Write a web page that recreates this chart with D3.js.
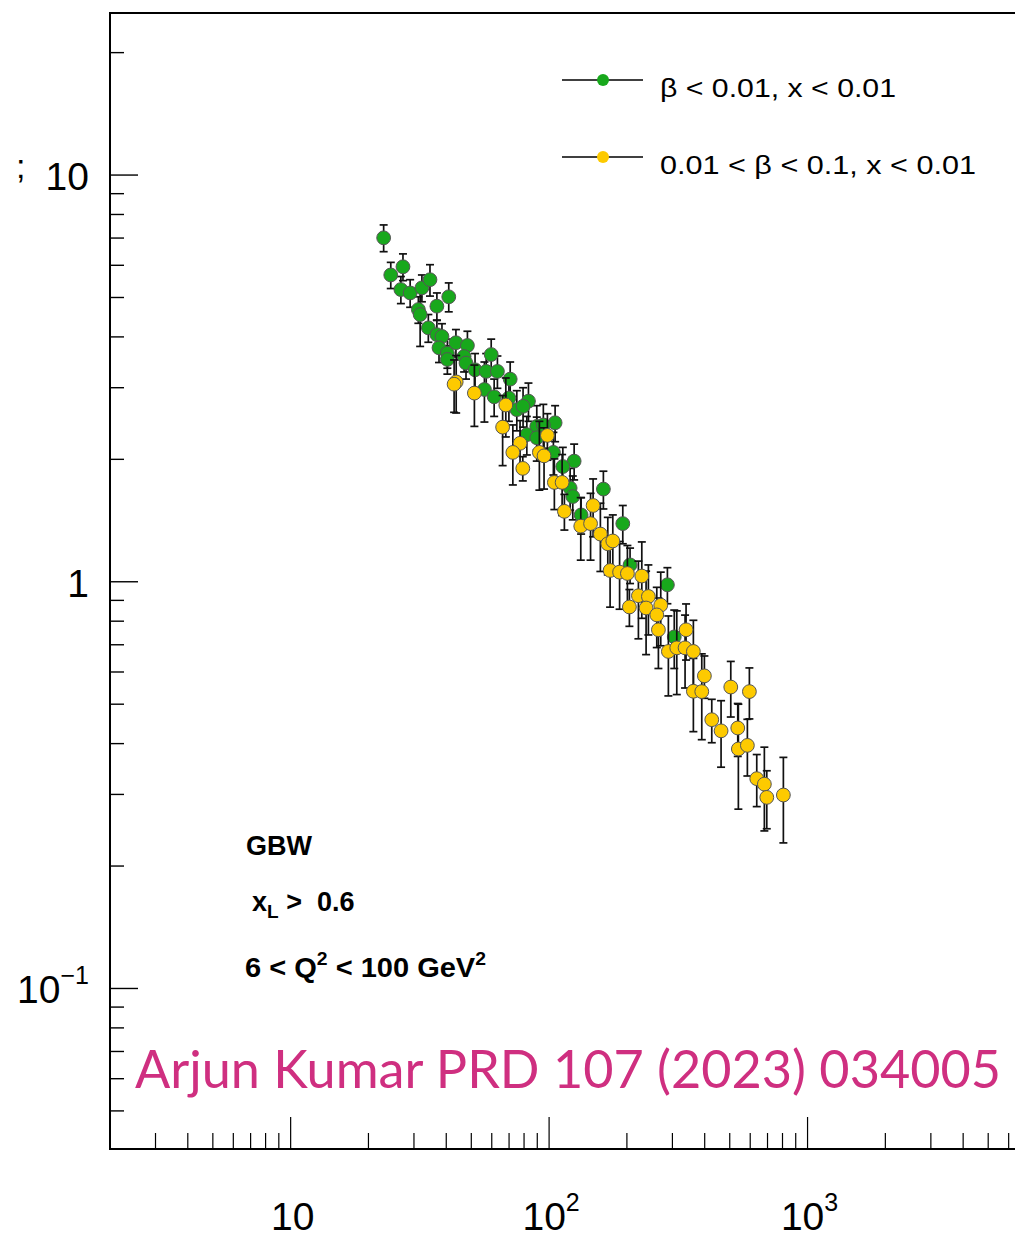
<!DOCTYPE html>
<html>
<head>
<meta charset="utf-8">
<script src="https://cdn.jsdelivr.net/npm/d3@7"></script>
<style>
  html, body { margin: 0; padding: 0; background: #fff; overflow: hidden; }
  svg { display: block; }
  text { white-space: pre; }
</style>
</head>
<body>
<script>
// ---------- data ----------
const greenX = [22.9,24.4,27.2,26.7,29.0,32.2,34.6,40.9,36.8,31.2,31.7,34.1,36.8,38.5,37.5,40.4,40.4,43.6,48.3,46.9,47.7,51.7,59.7,57.1,63.1,70.7,56.2,61.3,69.9,75.0,83.2,89.6,105.5,79.3,95.0,82.0,89.6,103.9,125,113,120.6,123.5,162.2,133,192.8,205.7,286.9,305];
const greenY = [7.01,5.68,5.95,5.23,5.13,5.28,5.53,5.02,4.76,4.67,4.54,4.21,4.05,4.01,3.76,3.65,3.52,3.87,3.81,3.58,3.45,3.32,3.62,3.29,3.29,3.15,2.97,2.85,2.83,2.65,2.78,2.41,2.46,2.70,2.43,2.30,2.26,2.08,1.98,1.92,1.70,1.62,1.69,1.46,1.39,1.10,0.983,0.732];
const greenErr = [0.53,0.42,0.45,0.4,0.4,0.4,0.49,0.41,0.37,0.35,0.75,0.33,0.35,0.3,0.3,0.3,0.28,0.3,0.32,0.3,0.3,0.32,0.33,0.35,0.3,0.32,0.5,0.3,0.35,0.3,0.3,0.3,0.25,0.3,0.3,0.25,0.28,0.25,0.2,0.22,0.2,0.2,0.18,0.15,0.15,0.11,0.1,0.12];

const yellowX = [43.7,42.9,51.4,68.0,66.1,77.2,72.4,79.1,98.5,91.7,95.6,104.8,112.3,114.6,132.6,144.7,148.0,157.9,168.7,176.4,172.2,187.4,200.9,228.4,221.6,242.2,204.5,237.3,270.4,261.0,264.8,338.8,289.4,311.9,335.8,361.6,398.9,361.6,389.7,504.6,595.6,426.0,462.8,537.0,539.9,585.0,636.0,680.6,695.4,806.2];
const yellowY = [3.10,3.06,2.91,2.72,2.40,2.19,2.08,1.90,2.29,2.08,2.04,1.755,1.755,1.49,1.37,1.39,1.54,1.31,1.24,1.26,1.066,1.056,1.048,1.033,0.924,0.920,0.867,0.862,0.876,0.829,0.762,0.762,0.674,0.688,0.688,0.674,0.587,0.538,0.537,0.551,0.537,0.458,0.430,0.437,0.388,0.396,0.328,0.318,0.295,0.299];
const yellowErr = [0.5,0.45,0.5,0.45,0.47,0.3,0.35,0.13,0.3,0.4,0.35,0.25,0.3,0.15,0.24,0.26,0.25,0.25,0.2,0.2,0.2,0.2,0.18,0.22,0.2,0.18,0.09,0.2,0.18,0.14,0.15,0.12,0.15,0.16,0.14,0.13,0.07,0.11,0.128,0.086,0.077,0.056,0.08,0.065,0.112,0.063,0.048,0.074,0.048,0.071];

const xDomain = [2, 10000];
const yDomain = [0.0403, 25.03];
const xMajorTicks = [10, 100, 1000];
const xMinorTicks = [3,4,5,6,7,8,9,20,30,40,50,60,70,80,90,200,300,400,500,600,700,800,900,2000,3000,4000,5000,6000,7000,8000,9000];
const yMajorTicks = [0.1, 1, 10];
const yMinorTicks = [0.05,0.06,0.07,0.08,0.09,0.2,0.3,0.4,0.5,0.6,0.7,0.8,0.9,2,3,4,5,6,7,8,9,20];

const legendLabels = ["β < 0.01, x < 0.01", "0.01 < β < 0.1, x < 0.01"];
const seriesColors = ["#18a81c", "#fdca00"];
const creditText = "Arjun Kumar PRD 107 (2023) 034005";

// ---------- layout ----------
const W = 1015, H = 1240;
const L = 110, R = 1066, T = 13, B = 1149;

const svg = d3.select("body").append("svg").attr("width", W).attr("height", H);
const x = d3.scaleLog().domain(xDomain).range([L, R]);
const y = d3.scaleLog().domain(yDomain).range([B, T]);

// frame
svg.append("rect").attr("x", L).attr("y", T).attr("width", R - L).attr("height", B - T)
  .attr("fill", "none").attr("stroke", "#000").attr("stroke-width", 2);

// x ticks (inward)
const gx = svg.append("g").attr("stroke", "#000").attr("stroke-width", 1.2);
gx.selectAll("line.maj").data(xMajorTicks).enter().append("line")
  .attr("x1", d => x(d)).attr("x2", d => x(d)).attr("y1", B).attr("y2", B - 32);
gx.selectAll("line.min").data(xMinorTicks).enter().append("line")
  .attr("x1", d => x(d)).attr("x2", d => x(d)).attr("y1", B).attr("y2", B - 16);

// y ticks (inward)
const gy = svg.append("g").attr("stroke", "#000").attr("stroke-width", 1.4);
gy.selectAll("line.maj").data(yMajorTicks).enter().append("line")
  .attr("y1", d => y(d)).attr("y2", d => y(d)).attr("x1", L).attr("x2", L + 28);
gy.selectAll("line.min").data(yMinorTicks).enter().append("line")
  .attr("y1", d => y(d)).attr("y2", d => y(d)).attr("x1", L).attr("x2", L + 14);

const FONT = "'Liberation Sans', Arial, Helvetica, sans-serif";

function powLabel(sel, d) {
  const e = Math.round(Math.log10(d));
  if (e === 1) { sel.text("10"); return; }
  if (e === 0) { sel.text("1"); return; }
  sel.append("tspan").text("10");
  sel.append("tspan").attr("font-size", 25).attr("dy", -19).text(e < 0 ? "\u2212" + (-e) : String(e));
}
svg.append("g").selectAll("text").data(xMajorTicks).enter().append("text")
  .attr("x", d => x(d) + 2).attr("y", 1230)
  .attr("text-anchor", "middle").attr("font-family", FONT).attr("font-size", 39)
  .each(function(d) { powLabel(d3.select(this), d); });

svg.append("g").selectAll("text").data(yMajorTicks).enter().append("text")
  .attr("x", 89).attr("y", d => y(d) + 15)
  .attr("text-anchor", "end").attr("font-family", FONT).attr("font-size", 39)
  .each(function(d) { powLabel(d3.select(this), d); });

// cut-off y title glyph
svg.append("text").attr("x", 16).attr("y", 178).attr("font-family", FONT)
  .attr("font-size", 34).text(";");

// ---------- series ----------
const series = [
  { xs: greenX, ys: greenY, es: greenErr, color: seriesColors[0] },
  { xs: yellowX, ys: yellowY, es: yellowErr, color: seriesColors[1] }
];
series.forEach(s => {
  const pts = s.xs.map((v, i) => ({ x: v, y: s.ys[i], e: s.es[i] }));
  const g = svg.append("g");
  const eb = g.append("g").attr("stroke", "#111").attr("stroke-width", 1.7);
  eb.selectAll("line.v").data(pts).enter().append("line")
    .attr("x1", d => x(d.x)).attr("x2", d => x(d.x))
    .attr("y1", d => y(d.y + d.e)).attr("y2", d => y(d.y - d.e));
  eb.selectAll("line.t").data(pts).enter().append("line")
    .attr("x1", d => x(d.x) - 4).attr("x2", d => x(d.x) + 4)
    .attr("y1", d => y(d.y + d.e)).attr("y2", d => y(d.y + d.e));
  eb.selectAll("line.b").data(pts).enter().append("line")
    .attr("x1", d => x(d.x) - 4).attr("x2", d => x(d.x) + 4)
    .attr("y1", d => y(d.y - d.e)).attr("y2", d => y(d.y - d.e));
  g.append("g").selectAll("circle").data(pts).enter().append("circle")
    .attr("cx", d => x(d.x)).attr("cy", d => y(d.y)).attr("r", 6.9)
    .attr("fill", s.color).attr("stroke", "#555").attr("stroke-width", 1);
});

// ---------- legend ----------
const legY = [80, 157];
legendLabels.forEach((lab, i) => {
  svg.append("line").attr("x1", 562).attr("x2", 643).attr("y1", legY[i]).attr("y2", legY[i])
    .attr("stroke", "#000").attr("stroke-width", 1.4);
  svg.append("circle").attr("cx", 603).attr("cy", legY[i]).attr("r", 6)
    .attr("fill", seriesColors[i]);
  svg.append("text").attr("x", 660).attr("y", legY[i] + 17)
    .attr("font-family", FONT).attr("font-size", 26)
    .attr("textLength", i === 0 ? 236 : 316).attr("lengthAdjust", "spacingAndGlyphs")
    .text(lab);
});

// ---------- annotations ----------
svg.append("text").attr("x", 246).attr("y", 855)
  .attr("font-family", FONT).attr("font-weight", "bold").attr("font-size", 27).text("GBW");

const t2 = svg.append("text").attr("x", 252).attr("y", 911)
  .attr("font-family", FONT).attr("font-weight", "bold").attr("font-size", 27);
t2.append("tspan").text("x");
t2.append("tspan").attr("font-size", 19).attr("dy", 7).text("L");
t2.append("tspan").attr("dy", -7).text(" >\u00a0\u00a00.6");

const t3 = svg.append("text").attr("x", 245).attr("y", 977)
  .attr("font-family", FONT).attr("font-weight", "bold").attr("font-size", 27)
  .attr("textLength", 241).attr("lengthAdjust", "spacingAndGlyphs");
t3.append("tspan").text("6 < Q");
t3.append("tspan").attr("font-size", 18).attr("dy", -12).text("2");
t3.append("tspan").attr("dy", 12).text(" < 100 GeV");
t3.append("tspan").attr("font-size", 18).attr("dy", -12).text("2");

// credit
svg.append("text").attr("x", 135).attr("y", 1088)
  .attr("font-family", "Lato, 'Open Sans', sans-serif").attr("font-size", 52)
  .attr("fill", "#cf2f80")
  .attr("textLength", 866).attr("lengthAdjust", "spacingAndGlyphs")
  .text(creditText);
</script>
</body>
</html>
